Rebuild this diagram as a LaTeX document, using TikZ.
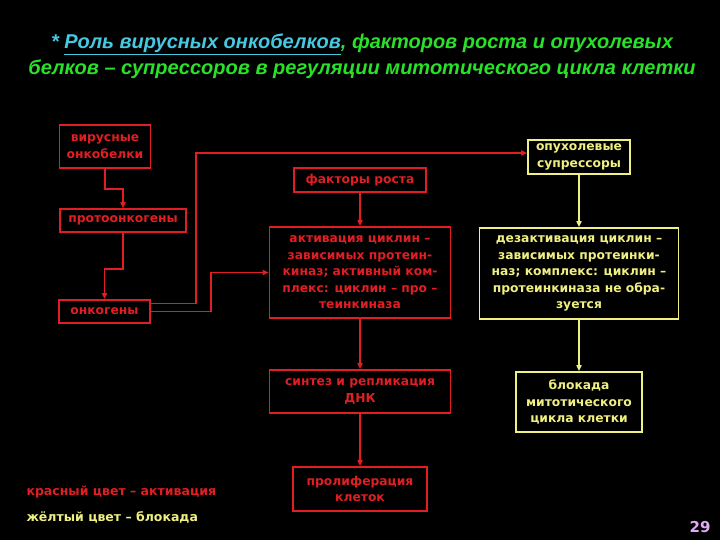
\documentclass[tikz,border=0pt]{standalone}
\usepackage{fontspec}
\setmainfont{DejaVu Sans}
\newfontfamily\titlefont{Liberation Sans}
\usepackage{xcolor}
\usepackage{tikz}
\usetikzlibrary{positioning, arrows.meta}
\definecolor{actred}{RGB}{225, 30, 35}
\definecolor{blockyellow}{RGB}{240, 240, 130}
\definecolor{titlegreen}{RGB}{40, 225, 40}
\definecolor{titlecyan}{RGB}{70, 200, 225}
\definecolor{pagepink}{RGB}{225, 170, 245}

\tikzset{
  redbox/.style={draw=actred, line width=1.6pt, text=actred, align=center, inner sep=0pt,
    font=\bfseries\fontsize{12.3}{16.5}\selectfont},
  yelbox/.style={draw=blockyellow, line width=1.6pt, text=blockyellow, align=center, inner sep=0pt,
    font=\bfseries\fontsize{12.3}{16.5}\selectfont},
  redline/.style={draw=actred, line width=1.8pt, -{Triangle[length=6pt, width=5pt]}},
  yelline/.style={draw=blockyellow, line width=1.8pt, -{Triangle[length=6pt, width=5pt]}}
}

\begin{document}
\begin{tikzpicture}[x=1pt, y=-1pt]
\fill[black] (0,0) rectangle (720,540);
\useasboundingbox (0,0) rectangle (720,540);
% title
\node[titlegreen, font=\titlefont\bfseries\itshape\fontsize{20}{26}\selectfont, align=center] (title) at (362,56)
  {{\color{titlecyan}* \underline{Роль вирусных онкобелков}}, факторов роста и опухолевых\\
   белков – супрессоров в регуляции митотического цикла клетки};
% left column
\node[redbox, minimum width=91pt, minimum height=43pt] (vir) at (105,146.5) {вирусные\\онкобелки};
\node[redbox, minimum width=126pt, minimum height=23pt] (proto) at (123,220.5) {протоонкогены};
\node[redbox, minimum width=91pt, minimum height=23pt] (onk) at (104.5,311.5) {онкогены};
% middle column
\node[redbox, minimum width=132pt, minimum height=24pt] (growth) at (360,180) {факторы роста};
\node[redbox, minimum width=181pt, minimum height=91pt] (act) at (360,272.5)
  {активация циклин –\\зависимых протеин-\\киназ; активный ком-\\плекс: циклин – про –\\теинкиназа};
\node[redbox, minimum width=181pt, minimum height=43pt] (dna) at (360,391.5)
  {синтез и репликация\\ДНК};
\node[redbox, minimum width=134pt, minimum height=44pt] (prolif) at (360,489)
  {пролиферация\\клеток};
% right column
\node[yelbox, minimum width=102pt, minimum height=34pt] (supp) at (579,157) {опухолевые\\супрессоры};
\node[yelbox, minimum width=199pt, minimum height=91pt] (deact) at (579,273.5)
  {дезактивация циклин –\\зависимых протеинки-\\наз; комплекс: циклин –\\протеинкиназа не обра-\\зуется};
\node[yelbox, minimum width=126pt, minimum height=60pt] (block) at (579,402)
  {блокада\\митотического\\цикла клетки};
% connectors
\draw[redline] (vir.south) -- ++(0,20) -| (proto.north);
\draw[redline] (proto.south) -- ++(0,36) -| (onk.north);
\draw[redline] ([yshift=8pt]onk.east) -- ++(45,0) |- ([yshift=4pt]supp.west);
\draw[redline] (onk.east) -- ++(60,0) |- (act.west);
\draw[redline] (growth) -- (act);
\draw[redline] (act) -- (dna);
\draw[redline] (dna) -- (prolif);
\draw[yelline] (supp) -- (deact);
\draw[yelline] (deact) -- (block);
% legend
\node[actred, anchor=west, font=\bfseries\fontsize{12.5}{13}\selectfont] (legred) at (23,492) {красный цвет – активация};
\node[blockyellow, anchor=west, font=\bfseries\fontsize{12.5}{13}\selectfont] (legyel) at (23,517) {жёлтый цвет – блокада};
\node[pagepink, font=\bfseries\fontsize{15}{16}\selectfont] (page) at (700,527) {29};
\end{tikzpicture}
\end{document}
